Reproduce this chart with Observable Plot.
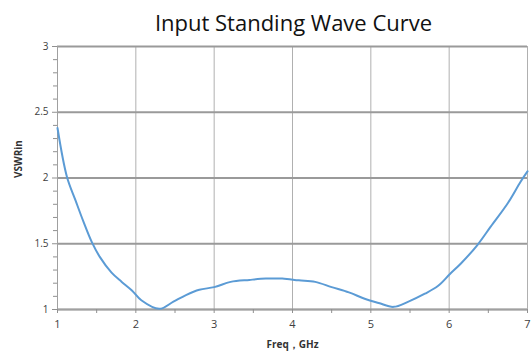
<!DOCTYPE html>
<html>
<head>
<meta charset="utf-8">
<script src="https://cdn.jsdelivr.net/npm/d3@7"></script>
<script src="https://cdn.jsdelivr.net/npm/@observablehq/plot@0.6"></script>
<style>
  html, body { margin: 0; padding: 0; background: #fff; }
  #wrap { width: 531px; height: 358px; overflow: hidden; }
  #title { height: 38px; line-height: 44px; box-sizing: border-box; padding-left: 57px; padding-right: 1px;
           text-align: center; font-family: "Open Sans", sans-serif; font-size: 22px; color: #111; white-space: nowrap; }
  svg { display: block; }
</style>
</head>
<body>
<div id="wrap">
  <div id="title">Input Standing Wave Curve</div>
  <div id="chart"></div>
</div>
<script>
const freq = [1.00, 1.12, 1.23, 1.33, 1.44, 1.54, 1.69, 1.82, 1.95, 2.07, 2.30, 2.48, 2.64, 2.81, 3.00, 3.21, 3.45, 3.66, 3.87, 4.08, 4.29, 4.50, 4.72, 4.93, 5.10, 5.29, 5.48, 5.69, 5.86, 6.01, 6.15, 6.36, 6.53, 6.75, 6.91, 7.00];
const vswr = [2.38, 2.01, 1.83, 1.67, 1.51, 1.40, 1.28, 1.21, 1.145, 1.07, 1.005, 1.06, 1.11, 1.15, 1.17, 1.21, 1.225, 1.235, 1.235, 1.222, 1.21, 1.17, 1.13, 1.08, 1.05, 1.02, 1.06, 1.12, 1.18, 1.27, 1.35, 1.49, 1.63, 1.81, 1.97, 2.05];
const xTicks = [1, 2, 3, 4, 5, 6, 7];
const xMinor = [1.5, 2.5, 3.5, 4.5, 5.5, 6.5];
const yTicks = [1, 1.5, 2, 2.5, 3];
const yMinor = [1.1, 1.2, 1.3, 1.4, 1.6, 1.7, 1.8, 1.9, 2.1, 2.2, 2.3, 2.4, 2.6, 2.7, 2.8, 2.9];
const yLabel = "VSWRin";
const xLabel = "Freq，GHz";

const data = freq.map((f, i) => ({f, v: vswr[i]}));

const chart = Plot.plot({
  width: 531,
  height: 320,
  marginTop: 8,
  marginBottom: 49,
  marginLeft: 57,
  marginRight: 4,
  style: {fontFamily: "Open Sans, sans-serif", fontSize: "10px", color: "#404040", background: "#fff"},
  x: {domain: [1, 7]},
  y: {domain: [1, 3]},
  marks: [
    Plot.gridX(xTicks, {stroke: "#b0b0b0", strokeOpacity: 1, strokeWidth: 1}),
    Plot.gridY(yTicks, {stroke: "#9a9a9a", strokeOpacity: 1, strokeWidth: 1.8}),
    Plot.ruleX([1], {stroke: "#a0a0a0", strokeWidth: 1}),
    Plot.ruleY([1], {stroke: "#a0a0a0", strokeWidth: 1.5}),
    Plot.axisY(yTicks, {tickSize: 5, tickPadding: 4, stroke: "#909090", label: null, fontSize: 10, tickFormat: d => String(d)}),
    Plot.axisY(yMinor, {tickSize: 4, tickFormat: () => "", stroke: "#909090", label: null}),
    Plot.axisX(xTicks, {tickSize: 4, tickPadding: 7, stroke: "#909090", label: null, fontSize: 11, tickFormat: d => String(d)}),
    Plot.axisX(xMinor, {tickSize: 4, tickFormat: () => "", stroke: "#909090", label: null}),
    Plot.line(data, {x: "f", y: "v", stroke: "#5b9bd5", strokeWidth: 2, curve: "catmull-rom"}),
    Plot.text([yLabel], {frameAnchor: "left", dx: -39, rotate: -90, fontWeight: "bold", fontSize: 10, fill: "#333"}),
    Plot.text([xLabel], {frameAnchor: "bottom", dy: 38, fontWeight: "bold", fontSize: 10, fill: "#333"})
  ]
});
document.getElementById("chart").appendChild(chart);
</script>
</body>
</html>
